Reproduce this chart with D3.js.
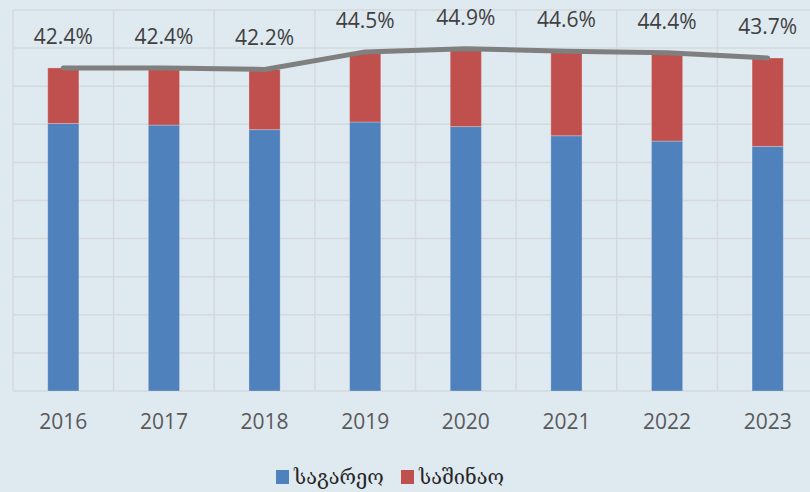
<!DOCTYPE html>
<html>
<head>
<meta charset="utf-8">
<script src="https://cdn.jsdelivr.net/npm/d3@7"></script>
<style>
    html, body { margin: 0; padding: 0; background: #dfe9f0; }
    svg { display: block; }
</style>
</head>
<body>
<div id="chart"></div>
<script>
(function() {
    'use strict';

    // data (% of GDP)
    var years = ['2016', '2017', '2018', '2019', '2020', '2021', '2022', '2023'];
    var foreign = [35.1, 34.9, 34.3, 35.3, 34.7, 33.5, 32.8, 32.1];
    var domestic = [7.3, 7.5, 7.9, 9.2, 10.2, 11.1, 11.6, 11.6];
    var totals = [42.4, 42.4, 42.2, 44.5, 44.9, 44.6, 44.4, 43.7];
    var seriesNames = ['საგარეო', 'საშინაო'];
    var yTicks = [0, 5, 10, 15, 20, 25, 30, 35, 40, 45, 50];

    var width = 810, height = 492;
    var colors = { foreign: '#4f81bd', domestic: '#c0504d', line: '#7f7f7f', grid: '#d6d9dc' };

    var svg = d3.select('#chart').append('svg')
        .attr('width', width)
        .attr('height', height);

    svg.append('rect')
        .attr('width', width)
        .attr('height', height)
        .attr('fill', '#dfe9f0');

    var x = d3.scaleBand()
        .domain(years)
        .range([13, 818])
        .padding(0);

    var y = d3.scaleLinear()
        .domain([0, 50])
        .range([391, 10]);

    var barW = x.bandwidth() * 0.31;
    var cx = function(yr) { return x(yr) + x.bandwidth() / 2; };

    // horizontal gridlines
    svg.append('g')
        .selectAll('line')
        .data(yTicks)
        .enter()
        .append('line')
        .attr('x1', 13)
        .attr('x2', width)
        .attr('y1', function(d) { return y(d); })
        .attr('y2', function(d) { return y(d); })
        .attr('stroke', colors.grid)
        .attr('stroke-width', 1.5);

    // vertical gridlines at category edges
    svg.append('g')
        .selectAll('line')
        .data(years.concat(['end']))
        .enter()
        .append('line')
        .attr('x1', function(d, i) { return x.range()[0] + i * x.step(); })
        .attr('x2', function(d, i) { return x.range()[0] + i * x.step(); })
        .attr('y1', y(50))
        .attr('y2', y(0))
        .attr('stroke', colors.grid)
        .attr('stroke-width', 1.5);

    var rows = years.map(function(yr, i) {
        return { year: yr, foreign: foreign[i], domestic: domestic[i], total: totals[i] };
    });

    var stack = d3.stack().keys(['foreign', 'domestic'])(rows);

    svg.append('g')
        .selectAll('g')
        .data(stack)
        .enter()
        .append('g')
        .attr('fill', function(d) { return colors[d.key]; })
        .selectAll('rect')
        .data(function(d) { return d; })
        .enter()
        .append('rect')
        .attr('x', function(d) { return cx(d.data.year) - barW / 2; })
        .attr('width', barW)
        .attr('y', function(d) { return y(d[1]); })
        .attr('height', function(d) { return y(d[0]) - y(d[1]); })
        .attr('stroke', 'rgba(255,255,255,0.25)')
        .attr('stroke-width', 1);

    // total line
    var line = d3.line()
        .x(function(d) { return cx(d.year); })
        .y(function(d) { return y(d.total); });

    svg.append('path')
        .datum(rows)
        .attr('d', line)
        .attr('fill', 'none')
        .attr('stroke', colors.line)
        .attr('stroke-width', 5)
        .attr('stroke-linecap', 'round')
        .attr('stroke-linejoin', 'round');

    // data labels
    svg.append('g')
        .selectAll('text')
        .data(rows)
        .enter()
        .append('text')
        .attr('x', function(d) { return cx(d.year); })
        .attr('y', function(d) { return y(d.total) - 24; })
        .attr('text-anchor', 'middle')
        .attr('font-family', '"Open Sans", sans-serif')
        .attr('font-size', '21px')
        .attr('fill', '#404040')
        .text(function(d) { return d.total.toFixed(1) + '%'; });

    // category axis labels
    svg.append('g')
        .selectAll('text')
        .data(years)
        .enter()
        .append('text')
        .attr('x', function(d) { return cx(d); })
        .attr('y', 429)
        .attr('text-anchor', 'middle')
        .attr('font-family', '"Open Sans", sans-serif')
        .attr('font-size', '21px')
        .attr('fill', '#595959')
        .text(function(d) { return d; });

    // legend
    var legend = svg.append('g')
        .attr('font-family', '"DejaVu Serif", "DejaVu Sans", serif')
        .attr('font-size', '20px')
        .attr('fill', '#262626');

    var legendX = [276, 401];
    var legendColors = [colors.foreign, colors.domestic];

    seriesNames.forEach(function(name, i) {
        legend.append('rect')
            .attr('x', legendX[i])
            .attr('y', 470)
            .attr('width', 13)
            .attr('height', 14)
            .attr('fill', legendColors[i]);
        legend.append('text')
            .attr('x', legendX[i] + 18)
            .attr('y', 484)
            .text(name);
    });
})();
</script>
</body>
</html>
